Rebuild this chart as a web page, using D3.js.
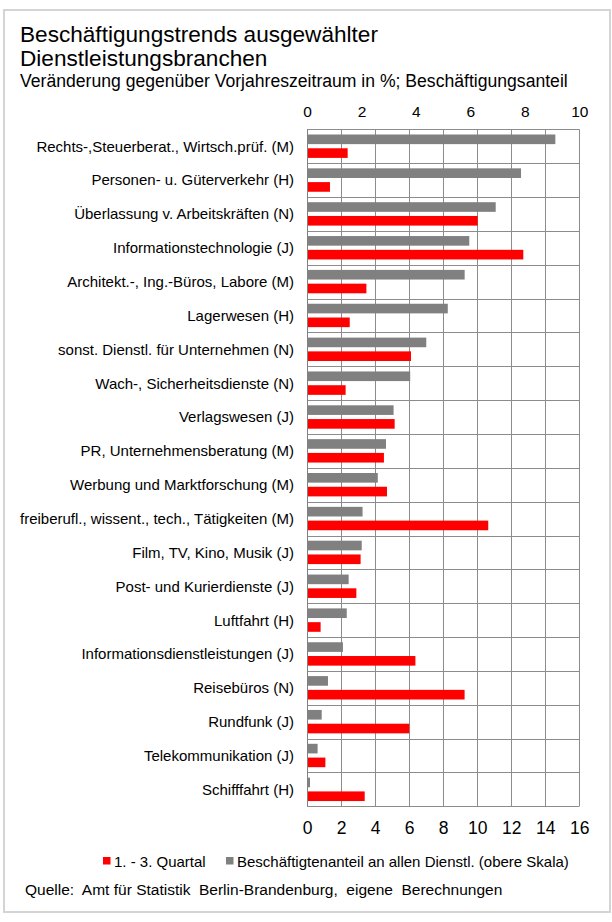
<!DOCTYPE html>
<html>
<head>
<meta charset="utf-8">
<script src="https://cdn.jsdelivr.net/npm/d3@7"></script>
<style>
  html, body { margin: 0; padding: 0; background: #fff; }
  svg { display: block; }
  text { font-family: "Liberation Sans", Arial, sans-serif; fill: #000; }
</style>
</head>
<body>
<svg id="chart" width="612" height="922"></svg>
<script>
const categories = [
  "Rechts-,Steuerberat., Wirtsch.prüf. (M)",
  "Personen- u. Güterverkehr (H)",
  "Überlassung v. Arbeitskräften (N)",
  "Informationstechnologie (J)",
  "Architekt.-, Ing.-Büros, Labore (M)",
  "Lagerwesen (H)",
  "sonst. Dienstl. für Unternehmen (N)",
  "Wach-, Sicherheitsdienste (N)",
  "Verlagswesen (J)",
  "PR, Unternehmensberatung (M)",
  "Werbung und Marktforschung (M)",
  "freiberufl., wissent., tech., Tätigkeiten (M)",
  "Film, TV, Kino, Musik (J)",
  "Post- und Kurierdienste (J)",
  "Luftfahrt (H)",
  "Informationsdienstleistungen (J)",
  "Reisebüros (N)",
  "Rundfunk (J)",
  "Telekommunikation (J)",
  "Schifffahrt (H)"
];
// Beschäftigtenanteil an allen Dienstl. (obere Skala, 0-10)
const shareValues = [9.12, 7.86, 6.93, 5.96, 5.79, 5.17, 4.38, 3.79, 3.18, 2.90,
                     2.60, 2.04, 2.01, 1.53, 1.46, 1.32, 0.77, 0.54, 0.39, 0.11];
// 1. - 3. Quartal, Veränderung gegenüber Vorjahreszeitraum in % (untere Skala, 0-16)
const changeValues = [2.39, 1.35, 10.03, 12.71, 3.49, 2.51, 6.11, 2.27, 5.15, 4.52,
                      4.70, 10.65, 3.15, 2.90, 0.80, 6.37, 9.26, 6.01, 1.08, 3.39];
const topTicks = [0, 2, 4, 6, 8, 10];
const bottomTicks = [0, 2, 4, 6, 8, 10, 12, 14, 16];
const seriesNames = ["share", "change"];
const legendLabels = ["1. - 3. Quartal", "Beschäftigtenanteil an allen Dienstl. (obere Skala)"];
const titleLines = ["Beschäftigungstrends ausgewählter", "Dienstleistungsbranchen"];
const subtitle = "Veränderung gegenüber Vorjahreszeitraum in %; Beschäftigungsanteil";
const sourceText = "Quelle:  Amt für Statistik  Berlin-Brandenburg,  eigene  Berechnungen";

const svg = d3.select("#chart");
const GRID = "#8c8c8c";
const GRAY = "#808080";
const RED = "#ff0000";

// outer frame
svg.append("rect").attr("x", 4).attr("y", 10).attr("width", 606).attr("height", 902)
  .attr("fill", "none").attr("stroke", "#d4d4d4").attr("stroke-width", 2);

// titles
svg.append("text").attr("x", 20).attr("y", 42).attr("font-size", 22.6).text(titleLines[0]);
svg.append("text").attr("x", 20).attr("y", 66).attr("font-size", 22.6).text(titleLines[1]);
svg.append("text").attr("x", 20).attr("y", 87).attr("font-size", 17.6).text(subtitle);

const plot = { left: 307, right: 579.3, top: 129.3, bottom: 806.3 };

const xTop = d3.scaleLinear().domain([0, 10]).range([plot.left, plot.right]);
const xBottom = d3.scaleLinear().domain([0, 16]).range([plot.left, plot.right]);
const y = d3.scaleBand().domain(categories).range([plot.top, plot.bottom]).padding(0);
const ySub = d3.scaleBand().domain(seriesNames).range([5.2, 28.6]).paddingInner(0.3);

const g = svg.append("g");

// vertical grid lines (lower scale)
g.selectAll("line.vgrid").data(bottomTicks).enter().append("line")
  .attr("class", "vgrid")
  .attr("x1", d => Math.round(xBottom(d)) + 0.5).attr("x2", d => Math.round(xBottom(d)) + 0.5)
  .attr("y1", plot.top).attr("y2", plot.bottom)
  .attr("stroke", GRID).attr("stroke-width", 1);

// horizontal grid lines (category boundaries)
const bounds = categories.map(c => y(c)).concat([plot.bottom]);
g.selectAll("line.hgrid").data(bounds).enter().append("line")
  .attr("class", "hgrid")
  .attr("x1", plot.left).attr("x2", plot.right)
  .attr("y1", d => Math.round(d) + 0.5).attr("y2", d => Math.round(d) + 0.5)
  .attr("stroke", GRID).attr("stroke-width", 1);

// bars
const rows = categories.map((c, i) => ({ cat: c, share: shareValues[i], change: changeValues[i] }));
g.selectAll("rect.share").data(rows).enter().append("rect")
  .attr("class", "share")
  .attr("x", xTop(0))
  .attr("y", d => y(d.cat) + ySub("share"))
  .attr("width", d => xTop(d.share) - xTop(0))
  .attr("height", ySub.bandwidth())
  .attr("fill", GRAY);
g.selectAll("rect.change").data(rows).enter().append("rect")
  .attr("class", "change")
  .attr("x", xBottom(0))
  .attr("y", d => y(d.cat) + ySub("change"))
  .attr("width", d => xBottom(d.change) - xBottom(0))
  .attr("height", ySub.bandwidth())
  .attr("fill", RED);

// left axis line
g.append("line").attr("x1", plot.left + 0.5).attr("x2", plot.left + 0.5)
  .attr("y1", plot.top).attr("y2", plot.bottom).attr("stroke", "#808080");

// category labels
const catAxis = d3.axisLeft(y).tickSize(0).tickPadding(0);
const catG = svg.append("g").attr("transform", `translate(${294},0)`).call(catAxis);
catG.select(".domain").remove();
catG.selectAll("text").attr("font-size", 15).attr("font-family", "Liberation Sans, Arial, sans-serif")
  .attr("fill", "#000").attr("dy", "0.36em").attr("x", 0);

// top axis
const topAxis = d3.axisTop(xTop).tickValues(topTicks).tickSize(0).tickPadding(0).tickFormat(d3.format("d"));
const topG = svg.append("g").attr("transform", `translate(0,${117})`).call(topAxis);
topG.select(".domain").remove();
topG.selectAll("text").attr("font-size", 15.5).attr("font-family", "Liberation Sans, Arial, sans-serif")
  .attr("fill", "#000").attr("dy", 0).attr("y", 0);

// bottom axis
const bottomAxis = d3.axisBottom(xBottom).tickValues(bottomTicks).tickSize(0).tickPadding(0).tickFormat(d3.format("d"));
const botG = svg.append("g").attr("transform", `translate(0,${834})`).call(bottomAxis);
botG.select(".domain").remove();
botG.selectAll("text").attr("font-size", 17.5).attr("font-family", "Liberation Sans, Arial, sans-serif")
  .attr("fill", "#000").attr("dy", 0).attr("y", 0);

// legend
const legendItems = [
  { label: legendLabels[0], color: RED, x: 103 },
  { label: legendLabels[1], color: GRAY, x: 226 }
];
const lg = svg.selectAll("g.legend").data(legendItems).enter().append("g").attr("class", "legend");
lg.append("rect").attr("x", d => d.x).attr("y", 857).attr("width", 7.5).attr("height", 7.5).attr("fill", d => d.color);
lg.append("text").attr("x", d => d.x + 11).attr("y", 866.5).attr("font-size", 15).text(d => d.label);

// source
svg.append("text").attr("x", 25).attr("y", 895).attr("font-size", 15.5)
  .attr("xml:space", "preserve").style("white-space", "pre").text(sourceText);
</script>
</body>
</html>
